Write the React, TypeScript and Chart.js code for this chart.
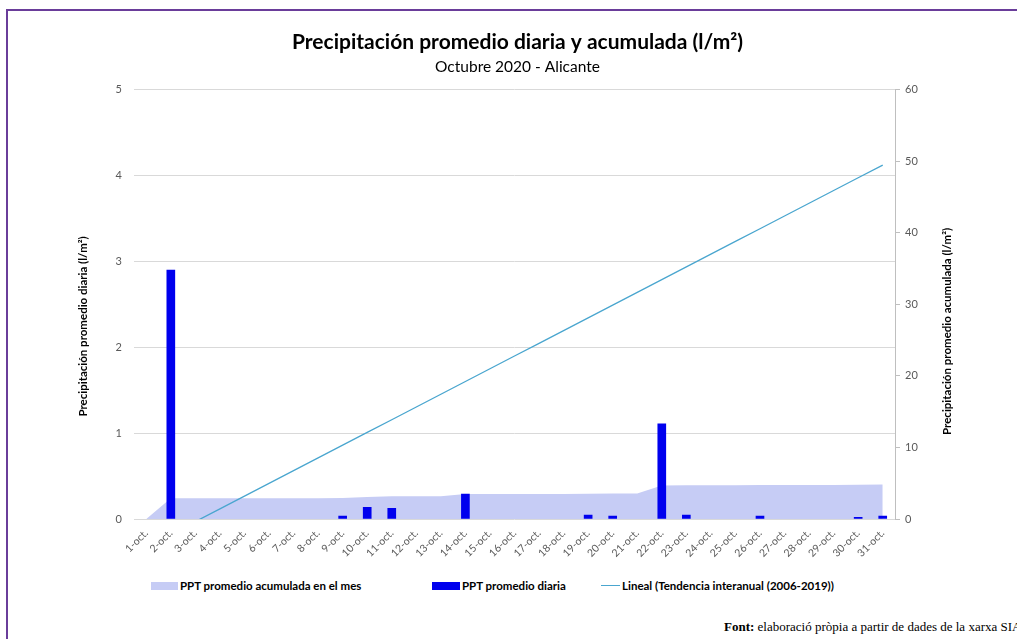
import React, { useEffect, useRef } from 'react';
import { Chart, registerables } from 'chart.js';

Chart.register(...registerables);

const categories = [
  '1-oct.', '2-oct.', '3-oct.', '4-oct.', '5-oct.', '6-oct.', '7-oct.', '8-oct.', '9-oct.', '10-oct.',
  '11-oct.', '12-oct.', '13-oct.', '14-oct.', '15-oct.', '16-oct.', '17-oct.', '18-oct.', '19-oct.', '20-oct.',
  '21-oct.', '22-oct.', '23-oct.', '24-oct.', '25-oct.', '26-oct.', '27-oct.', '28-oct.', '29-oct.', '30-oct.',
  '31-oct.',
];

// null = day without rain (no bar drawn)
const dailyPpt = [
  null, 2.9, null, null, null, null, null, null, 0.035, 0.135,
  0.125, null, null, 0.29, null, null, null, null, 0.045, 0.035,
  null, 1.11, 0.045, null, null, 0.035, null, null, null, 0.02,
  0.035,
];

const accumulatedPpt = [
  0, 2.9, 2.9, 2.9, 2.9, 2.9, 2.9, 2.9, 2.935, 3.07,
  3.195, 3.195, 3.195, 3.485, 3.485, 3.485, 3.485, 3.485, 3.53, 3.565,
  3.565, 4.675, 4.72, 4.72, 4.72, 4.755, 4.755, 4.755, 4.755, 4.775,
  4.81,
];

const trendLine = [
  -3.92, -2.14, -0.36, 1.42, 3.2, 4.98, 6.76, 8.54, 10.32, 12.1,
  13.88, 15.66, 17.44, 19.22, 21.0, 22.78, 24.56, 26.34, 28.12, 29.9,
  31.68, 33.46, 35.24, 37.02, 38.8, 40.58, 42.36, 44.14, 45.92, 47.7,
  49.48,
];

const TITLE = 'Precipitación promedio diaria y acumulada (l/m²)';
const SUBTITLE = 'Octubre 2020 - Alicante';
const LEFT_TITLE = 'Precipitación promedio diaria (l/m²)';
const RIGHT_TITLE = 'Precipitación promedio acumulada (l/m²)';
const LEGEND_AREA = 'PPT promedio acumulada en el mes';
const LEGEND_BAR = 'PPT promedio diaria';
const LEGEND_LINE = 'Lineal (Tendencia interanual (2006-2019))';

const AREA_COLOR = '#c6ccf5';
const BAR_COLOR = '#0000ee';
const LINE_COLOR = '#4aa6cf';
const TICK_COLOR = '#595959';
const FONT = 'Lato';

const axisTitlePlugin = {
  id: 'axisTitles',
  afterDraw(chart: any) {
    const { ctx, chartArea } = chart;
    const midY = (chartArea.top + chartArea.bottom) / 2;
    ctx.save();
    ctx.fillStyle = '#000000';
    ctx.font = `bold 11.5px ${FONT}`;
    ctx.textAlign = 'center';
    ctx.textBaseline = 'middle';
    ctx.save();
    ctx.translate(chartArea.left - 51, midY + 22);
    ctx.rotate(-Math.PI / 2);
    ctx.fillText(LEFT_TITLE, 0, 0);
    ctx.restore();
    ctx.save();
    ctx.translate(chartArea.right + 52, midY + 27);
    ctx.rotate(-Math.PI / 2);
    ctx.fillText(RIGHT_TITLE, 0, 0);
    ctx.restore();
    ctx.restore();
  },
};

export default function App() {
  const canvasRef = useRef<HTMLCanvasElement | null>(null);

  useEffect(() => {
    if (!canvasRef.current) return;
    const chart = new Chart(canvasRef.current, {
      type: 'bar',
      data: {
        labels: categories,
        datasets: [
          {
            type: 'line',
            label: LEGEND_AREA,
            data: accumulatedPpt,
            yAxisID: 'y1',
            backgroundColor: AREA_COLOR,
            borderWidth: 0,
            pointRadius: 0,
            fill: 'origin',
            tension: 0,
            order: 3,
          } as any,
          {
            type: 'bar',
            label: LEGEND_BAR,
            data: dailyPpt,
            yAxisID: 'y',
            backgroundColor: BAR_COLOR,
            borderWidth: 0,
            barThickness: 8,
            order: 2,
          } as any,
          {
            type: 'line',
            label: LEGEND_LINE,
            data: trendLine,
            yAxisID: 'y1',
            borderColor: LINE_COLOR,
            borderWidth: 1.3,
            pointRadius: 0,
            fill: false,
            tension: 0,
            order: 1,
          } as any,
        ],
      },
      options: {
        responsive: false,
        animation: false,
        layout: { padding: { top: 0, right: 0, bottom: 0, left: 0 } },
        plugins: {
          legend: { display: false },
          tooltip: { enabled: false },
          title: {
            display: true,
            text: TITLE,
            color: '#000000',
            font: { family: FONT, size: 21, weight: 'bold' },
            padding: { top: 30, bottom: 0 },
          },
          subtitle: {
            display: true,
            text: SUBTITLE,
            color: '#000000',
            font: { family: FONT, size: 15.5, weight: 'normal' },
            padding: { top: 2, bottom: 14 },
          },
        },
        scales: {
          x: {
            offset: true,
            grid: { display: false, drawTicks: false },
            border: { display: false },
            ticks: {
              color: TICK_COLOR,
              font: { family: FONT, size: 10.5 },
              minRotation: 45,
              maxRotation: 45,
              autoSkip: false,
              padding: 8,
            },
            afterFit: (scale: any) => {
              scale.height = 51;
            },
          },
          y: {
            position: 'left',
            min: 0,
            max: 5,
            ticks: {
              stepSize: 1,
              color: TICK_COLOR,
              font: { family: FONT, size: 11 },
              padding: 12,
            },
            grid: { color: '#d9d9d9', drawTicks: false },
            border: { display: false },
            afterFit: (scale: any) => {
              scale.width = 134;
            },
          },
          y1: {
            position: 'right',
            min: 0,
            max: 60,
            ticks: {
              stepSize: 10,
              color: TICK_COLOR,
              font: { family: FONT, size: 11 },
              padding: 5,
            },
            grid: { drawOnChartArea: false, drawTicks: true, tickLength: 5, color: '#bfbfbf' },
            border: { display: true, color: '#bfbfbf' },
            afterFit: (scale: any) => {
              scale.width = 140;
            },
          },
        },
      },
      plugins: [axisTitlePlugin],
    });
    return () => chart.destroy();
  }, []);

  const legendText: React.CSSProperties = {
    position: 'absolute',
    top: 578,
    fontFamily: FONT,
    fontWeight: 'bold',
    fontSize: 11.5,
    lineHeight: '16px',
    color: '#000000',
    whiteSpace: 'nowrap',
  };

  return (
    <div
      style={{
        position: 'absolute',
        left: 0,
        top: 0,
        width: 1017,
        height: 639,
        overflow: 'hidden',
        background: '#ffffff',
      }}
    >
      <div
        style={{
          position: 'absolute',
          left: 6,
          top: 9,
          width: 1100,
          height: 700,
          borderTop: '2px solid #6a3d9a',
          borderLeft: '2px solid #6a3d9a',
        }}
      />
      <canvas
        ref={canvasRef}
        width={1035}
        height={570}
        style={{ position: 'absolute', left: 0, top: 0, width: 1035, height: 570 }}
      />
      <div style={{ position: 'absolute', left: 151, top: 582, width: 27, height: 8, background: AREA_COLOR }} />
      <div style={{ ...legendText, left: 180 }}>{LEGEND_AREA}</div>
      <div style={{ position: 'absolute', left: 432, top: 582, width: 28, height: 8, background: BAR_COLOR }} />
      <div style={{ ...legendText, left: 462 }}>{LEGEND_BAR}</div>
      <div style={{ position: 'absolute', left: 601, top: 585, width: 19, height: 1.3, background: LINE_COLOR }} />
      <div style={{ ...legendText, left: 622 }}>{LEGEND_LINE}</div>
      <div
        style={{
          position: 'absolute',
          left: 724,
          top: 618,
          fontFamily: '"Liberation Serif", "Times New Roman", serif',
          fontSize: 13,
          lineHeight: '18px',
          color: '#000000',
          whiteSpace: 'nowrap',
        }}
      >
        <b>Font:</b> elaboració pròpia a partir de dades de la xarxa SIAR
      </div>
    </div>
  );
}
